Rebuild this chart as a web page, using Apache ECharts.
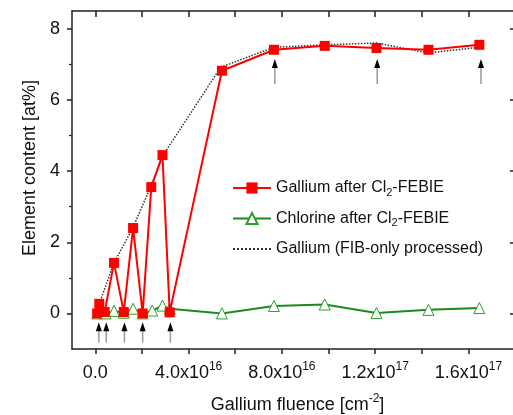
<!DOCTYPE html>
<html>
<head>
<meta charset="utf-8">
<script src="https://cdn.jsdelivr.net/npm/echarts@6/dist/echarts.min.js"></script>
<style>
  html, body { margin: 0; padding: 0; background: #fff; }
  #chart { width: 513px; height: 415px; }
</style>
</head>
<body>
<div id="chart"></div>
<script>
// x values in units of 1e16 cm^-2
var gaX = [0.08, 0.17, 0.4, 0.8, 1.22, 1.62, 2.03, 2.4, 2.88, 3.19, 5.43, 7.66, 9.84, 12.06, 14.29, 16.47];
var gaY = [0, 0.27, 0.04, 1.42, 0.04, 2.4, 0, 3.55, 4.45, 0.03, 6.82, 7.41, 7.52, 7.46, 7.41, 7.55];

var clX = [0.08, 0.44, 0.8, 1.22, 1.62, 2.03, 2.44, 2.88, 3.19, 5.43, 7.66, 9.84, 12.06, 14.29, 16.47];
var clY = [0, 0, 0.07, 0.02, 0.13, 0, 0.08, 0.22, 0.13, 0, 0.21, 0.25, 0.01, 0.1, 0.15];

var fibX = [0.17, 0.8, 1.62, 2.4, 2.88, 5.38, 7.66, 9.84, 12.06, 14.29, 16.47];
var fibY = [0.27, 1.42, 2.42, 3.6, 4.42, 6.92, 7.48, 7.55, 7.6, 7.32, 7.48];

// arrows: x, tip, tail
var arrowX = [0.15, 0.47, 1.25, 2.03, 3.22, 7.7, 12.09, 16.54];
var arrowTip = [-0.25, -0.25, -0.25, -0.25, -0.25, 7.15, 7.15, 7.15];
var arrowTail = [-0.82, -0.82, -0.82, -0.82, -0.82, 6.45, 6.45, 6.45];

var xTicks = [0, 2, 4, 6, 8, 10, 12, 14, 16];
var xLabelVals = [0, 4, 8, 12, 16];
var xLabelMant = ['0.0', '4.0', '8.0', '1.2', '1.6'];
var xLabelExp = ['', '16', '16', '17', '17'];
var yMajor = [0, 2, 4, 6, 8];
var yMinor = [1, 3, 5, 7];

var names = ['Gallium after Cl2-FEBIE', 'Chlorine after Cl2-FEBIE', 'Gallium (FIB-only processed)'];

function pairs(xs, ys) {
  return xs.map(function (x, i) { return [x, ys[i]]; });
}

var font = 'Liberation Sans, Arial, sans-serif';
var axisColor = '#222';

var myChart = echarts.init(document.getElementById('chart'));

var option = {
  backgroundColor: '#fff',
  animation: false,
  textStyle: { fontFamily: font },
  grid: { left: 72, right: -2, top: 11, bottom: 66, containLabel: false, outerBoundsMode: 'none' },
  legend: {
    data: [
      { name: names[0] },
      { name: names[1] },
      { name: names[2], itemStyle: { color: 'rgba(0,0,0,0)', borderColor: 'rgba(0,0,0,0)', borderWidth: 0 } }
    ],
    orient: 'vertical',
    left: 232,
    top: 180,
    padding: 0,
    itemWidth: 38,
    itemHeight: 14,
    itemGap: 12.5,
    textStyle: {
      fontSize: 16, color: '#111', fontFamily: font,
      rich: {
        t: { fontSize: 16, lineHeight: 20, color: '#111', fontFamily: font },
        s: { fontSize: 11, lineHeight: 11, verticalAlign: 'bottom', color: '#111', fontFamily: font }
      }
    },
    formatter: function (name) {
      var parts = name.split('Cl2');
      if (parts.length === 2) return '{t|' + parts[0] + 'Cl}{s|2}{t|' + parts[1] + '}';
      return '{t|' + name + '}';
    }
  },
  xAxis: [
    {
      type: 'value', min: -1, max: 18, position: 'bottom',
      name: 'Gallium fluence [cm{e|-2}]',
      nameLocation: 'middle', nameGap: 44,
      nameTextStyle: {
        fontSize: 18, color: '#111', lineHeight: 24, padding: [0, 0, 0, 8],
        rich: { e: { fontSize: 12, lineHeight: 14, verticalAlign: 'top', color: '#111' } }
      },
      axisLine: { onZero: false, lineStyle: { color: axisColor, width: 1.5 } },
      axisTick: { inside: false, length: 5, customValues: xTicks, lineStyle: { color: axisColor, width: 1.5 } },
      axisLabel: {
        customValues: xLabelVals, margin: 12, color: '#111',
        formatter: function (v) {
          var i = xLabelVals.indexOf(v);
          if (i < 0) return '';
          if (!xLabelExp[i]) return '{m|' + xLabelMant[i] + '}';
          return '{m|' + xLabelMant[i] + 'x10}{e|' + xLabelExp[i] + '}';
        },
        rich: {
          m: { fontSize: 18, lineHeight: 24, color: '#111', fontFamily: font },
          e: { fontSize: 12, lineHeight: 14, verticalAlign: 'top', color: '#111', fontFamily: font }
        }
      },
      splitLine: { show: false }
    },
    {
      type: 'value', min: -1, max: 18, position: 'top',
      axisLine: { onZero: false, lineStyle: { color: axisColor, width: 1.5 } },
      axisTick: { inside: true, length: 6, customValues: xTicks, lineStyle: { color: axisColor, width: 1.5 } },
      axisLabel: { show: false },
      splitLine: { show: false }
    }
  ],
  yAxis: [
    {
      type: 'value', min: -1, max: 8.5, position: 'left',
      name: 'Element content [at%]',
      nameLocation: 'middle', nameGap: 32,
      nameTextStyle: { fontSize: 18, color: '#111', padding: [0, 0, 0, 24] },
      axisLine: { show: true, onZero: false, lineStyle: { color: axisColor, width: 1.5 } },
      axisTick: { inside: false, length: 5, customValues: yMajor, lineStyle: { color: axisColor, width: 1.5 } },
      axisLabel: { customValues: yMajor, fontSize: 18, margin: 12, color: '#111' },
      splitLine: { show: false }
    },
    {
      type: 'value', min: -1, max: 8.5, position: 'right',
      axisLine: { show: true, onZero: false, lineStyle: { color: axisColor, width: 1.5 } },
      axisTick: { inside: true, length: 5, customValues: yMajor, lineStyle: { color: axisColor, width: 1.5 } },
      axisLabel: { show: false },
      splitLine: { show: false }
    },
    {
      type: 'value', min: -1, max: 8.5, position: 'left',
      axisLine: { show: false, onZero: false },
      axisTick: { inside: false, length: 3, customValues: yMinor, lineStyle: { color: axisColor, width: 1.2 } },
      axisLabel: { show: false },
      splitLine: { show: false }
    }
  ],
  series: [
    {
      name: names[1], type: 'line', z: 3,
      data: pairs(clX, clY),
      symbol: 'triangle', symbolSize: 11,
      lineStyle: { color: '#1c8a1c', width: 2 },
      itemStyle: { color: '#fff', borderColor: '#2e9e2e', borderWidth: 1 }
    },
    {
      name: names[2], type: 'line', z: 4,
      data: pairs(fibX, fibY),
      symbol: 'none',
      lineStyle: { color: '#333', width: 1.5, type: 'dotted' },
      itemStyle: { color: '#333' }
    },
    {
      name: names[0], type: 'line', z: 5,
      data: pairs(gaX, gaY),
      symbol: 'rect', symbolSize: 10,
      lineStyle: { color: '#ff0000', width: 2 },
      itemStyle: { color: '#ff0000' }
    },
    {
      name: 'arrows', type: 'custom', z: 6,
      encode: { x: 0, y: [1, 2] },
      data: arrowX.map(function (x, i) { return [x, arrowTip[i], arrowTail[i]]; }),
      renderItem: function (params, api) {
        var p1 = api.coord([api.value(0), api.value(1)]);
        var p2 = api.coord([api.value(0), api.value(2)]);
        return {
          type: 'group',
          children: [
            { type: 'line', shape: { x1: p1[0], y1: p1[1] + 8, x2: p2[0], y2: p2[1] }, style: { stroke: '#999', lineWidth: 1.5 } },
            { type: 'polygon', shape: { points: [[p1[0], p1[1]], [p1[0] - 3, p1[1] + 9], [p1[0] + 3, p1[1] + 9]] }, style: { fill: '#000' } }
          ]
        };
      }
    }
  ]
};

myChart.setOption(option);
</script>
</body>
</html>
